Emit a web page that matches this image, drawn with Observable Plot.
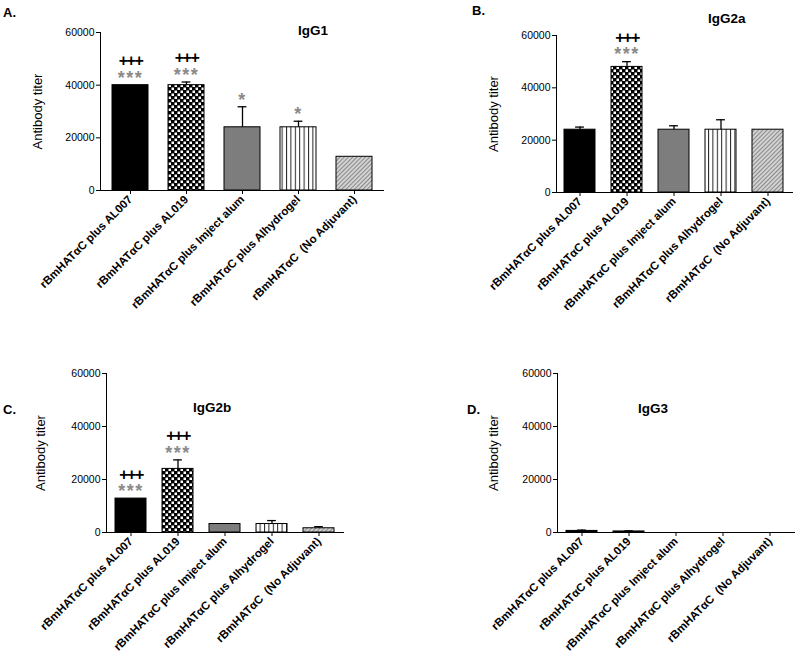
<!DOCTYPE html>
<html><head><meta charset="utf-8">
<script src="https://cdn.jsdelivr.net/npm/d3@7"></script>
<script src="https://cdn.jsdelivr.net/npm/@observablehq/plot@0.6"></script>
<style>
body{margin:0;background:#fff;}
#root{position:relative;width:800px;height:666px;overflow:hidden;font-family:"Liberation Sans",Arial,sans-serif;}
.panel{position:absolute;}
.lbl{position:absolute;font-weight:bold;font-size:13px;line-height:1;}
.ttl{position:absolute;font-weight:bold;font-size:13.5px;line-height:1;}
g[aria-label="y-axis label"] text{font-size:13px;}
g[aria-label="x-axis tick label"] text{font-weight:bold;font-size:11.5px;}
.stars text{letter-spacing:1.5px;}
.plus text{letter-spacing:-1.5px;}
</style></head><body>
<svg width="0" height="0" style="position:absolute">
<defs>
<pattern id="checker" width="6" height="6" patternUnits="userSpaceOnUse">
<rect width="6" height="6" fill="#000"/>
<rect x="0.5" y="0.5" width="2.5" height="2.5" fill="#fff"/>
<rect x="3.5" y="3.5" width="2.5" height="2.5" fill="#fff"/>
</pattern>
<pattern id="vstripe" width="4.4" height="4" patternUnits="userSpaceOnUse">
<rect width="4.4" height="4" fill="#fff"/>
<rect x="0" y="0" width="1" height="4" fill="#222"/>
</pattern>
<pattern id="hatch" width="3" height="3" patternUnits="userSpaceOnUse" patternTransform="rotate(45)">
<rect width="3" height="3" fill="#d2d2d2"/>
<rect x="0" y="0" width="1" height="3" fill="#8a8a8a"/>
</pattern>
</defs>
</svg>
<div id="root"></div>
<script>
const groups = ["rBmHATαC plus AL007", "rBmHATαC plus AL019", "rBmHATαC plus Imject alum", "rBmHATαC plus Alhydrogel", "rBmHATαC  (No Adjuvant)"];
const yTicks = [0, 20000, 40000, 60000];

const igg1 = [40000, 40000, 24000, 24000, 12800];
const igg1Err = [0, 1200, 7800, 2300, 0];
const igg1Stars = ["***", "***", "*", "*", ""];
const igg1Plus = ["+++", "+++", "", "", ""];

const igg2a = [24000, 48000, 24000, 24000, 24000];
const igg2aErr = [1000, 2000, 1500, 3800, 0];
const igg2aStars = ["", "***", "", "", ""];
const igg2aPlus = ["", "+++", "", "", ""];

const igg2b = [12800, 24000, 3200, 3200, 1600];
const igg2bErr = [0, 3400, 0, 1300, 600];
const igg2bStars = ["***", "***", "", "", ""];
const igg2bPlus = ["+++", "+++", "", "", ""];

const igg3 = [600, 400, 0, 0, 0];
const igg3Err = [300, 200, 0, 0, 0];
const igg3Stars = ["", "", "", "", ""];
const igg3Plus = ["", "", "", "", ""];

const fills = ["#000", "url(#checker)", "#7d7d7d", "url(#vstripe)", "url(#hatch)"];

function panel(vals, errs, stars, plus, g) {
  const rows = groups.map((grp, i) => ({group: grp, value: vals[i], err: errs[i], stars: stars[i], plus: plus[i], fill: fills[i]}));
  const errRows = rows.filter(d => d.err > 0);
  const step = (g.width - g.ml - g.mr) / 5;
  const bw = step * (1 - g.pad);
  const inset = (bw - 9) / 2;
  const chart = Plot.plot({
    width: g.width, height: g.height,
    marginLeft: g.ml, marginRight: g.mr, marginTop: g.mt, marginBottom: g.mb,
    style: {fontFamily: '"Liberation Sans", Arial, sans-serif', fontSize: "10.5px", color: "#000", background: "transparent"},
    color: {type: "identity"},
    x: {type: "band", domain: groups, paddingInner: g.pad, paddingOuter: g.pad / 2, line: true, tickRotate: -45, tickSize: 4, tickPadding: 3, label: null},
    y: {domain: [0, 60000], ticks: yTicks, tickFormat: d => String(d), line: true, tickSize: 4, tickPadding: 2, label: "Antibody titer", labelArrow: false, labelAnchor: "center", labelOffset: g.lo},
    marks: [
      Plot.barY(rows, {x: "group", y: "value", fill: "fill", stroke: "#000", strokeWidth: 1}),
      Plot.ruleX(errRows, {x: "group", y1: "value", y2: d => d.value + d.err, stroke: "#000", strokeWidth: 1.3}),
      Plot.tickY(errRows, {x: "group", y: d => d.value + d.err, stroke: "#000", strokeWidth: 1.3, insetLeft: inset, insetRight: inset}),
      Plot.text(rows.filter(d => d.stars), {x: "group", y: d => d.value + d.err, text: "stars", dy: -7, fill: "#8a8a8a", fontSize: 18, fontWeight: "bold", className: "stars"}),
      Plot.text(rows.filter(d => d.plus), {x: "group", y: d => d.value + d.err, text: "plus", dy: -24, fill: "#000", fontSize: 16, fontWeight: "bold", className: "plus"})
    ]
  });
  const div = document.createElement("div");
  div.className = "panel";
  div.style.left = g.left + "px";
  div.style.top = g.top + "px";
  div.appendChild(chart);
  document.getElementById("root").appendChild(div);
}

panel(igg1, igg1Err, igg1Stars, igg1Plus, {left: 0, top: 0, width: 400, height: 310, ml: 100, mr: 17, mt: 32, mb: 120, pad: 0.36, lo: 68});
panel(igg2a, igg2aErr, igg2aStars, igg2aPlus, {left: 400, top: 0, width: 400, height: 310, ml: 156, mr: 8, mt: 35, mb: 118, pad: 0.34, lo: 68});
panel(igg2b, igg2bErr, igg2bStars, igg2bPlus, {left: 0, top: 330, width: 400, height: 336, ml: 106, mr: 57, mt: 43, mb: 134, pad: 0.34, lo: 71});
panel(igg3, igg3Err, igg3Stars, igg3Plus, {left: 400, top: 330, width: 400, height: 336, ml: 157, mr: 6, mt: 43, mb: 134, pad: 0.34, lo: 69});

const texts = [
  ["lbl", "A.", 3, 6], ["lbl", "B.", 472, 4], ["lbl", "C.", 3, 403], ["lbl", "D.", 467, 403],
  ["ttl", "IgG1", 298, 24], ["ttl", "IgG2a", 708, 12], ["ttl", "IgG2b", 193, 401], ["ttl", "IgG3", 638, 402]
];
for (const [cls, t, x, y] of texts) {
  const d = document.createElement("div");
  d.className = cls; d.textContent = t;
  d.style.left = x + "px"; d.style.top = y + "px";
  document.getElementById("root").appendChild(d);
}
</script>
</body></html>
